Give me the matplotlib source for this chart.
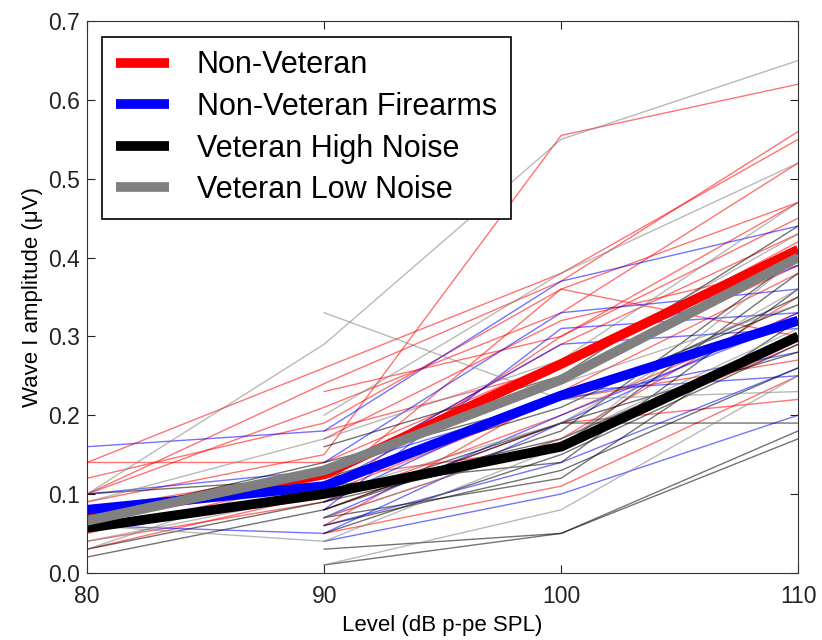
import numpy as np
import matplotlib
matplotlib.use("Agg")
from matplotlib import pyplot as plt

nan = np.nan
levels = [80, 90, 100, 110]

# individual subjects, amplitude at each level (nan = not measured)
non_vet = [
    [0.10, 0.24, 0.37, 0.56],
    [0.14, 0.26, 0.38, 0.55],
    [0.10, 0.21, 0.33, 0.52],
    [0.12, 0.19, 0.36, 0.47],
    [0.09, 0.15, 0.555, 0.62],
    [0.14, 0.14, 0.27, 0.41],
    [0.05, 0.12, 0.29, 0.43],
    [0.03, 0.10, 0.30, 0.45],
    [0.07, 0.11, 0.36, 0.30],
    [0.08, 0.13, 0.25, 0.39],
    [0.04, 0.09, 0.20, 0.33],
    [0.06, 0.10, 0.22, 0.27],
    [nan, 0.07, 0.17, 0.35],
    [nan, 0.05, 0.11, 0.25],
    [nan, 0.08, 0.19, 0.22],
    [nan, 0.17, 0.32, 0.39],
    [nan, 0.23, 0.30, 0.47],
    [nan, 0.18, 0.26, 0.42],
    [0.08, 0.12, 0.16, 0.29],
    [nan, 0.06, 0.23, 0.38],
]
non_vet_fire = [
    [0.16, 0.18, 0.37, 0.44],
    [0.06, 0.05, 0.19, 0.33],
    [nan, 0.08, 0.31, 0.33],
    [nan, 0.11, 0.27, 0.39],
    [nan, 0.06, 0.14, 0.26],
    [nan, 0.04, 0.10, 0.20],
    [nan, 0.12, 0.29, 0.31],
    [nan, 0.09, 0.23, 0.25],
    [nan, 0.14, 0.33, 0.36],
    [nan, 0.07, 0.20, 0.32],
    [0.10, 0.13, 0.22, 0.28],
]
vet_high = [
    [0.06, 0.10, 0.17, 0.30],
    [0.03, 0.09, 0.19, 0.28],
    [nan, 0.01, 0.05, 0.17],
    [nan, 0.03, 0.05, 0.18],
    [nan, 0.16, 0.25, 0.44],
    [nan, 0.07, 0.12, 0.32],
    [nan, 0.08, 0.19, 0.19],
    [nan, 0.11, 0.14, 0.36],
    [0.10, 0.12, 0.21, 0.35],
    [nan, 0.06, 0.13, 0.26],
    [0.02, 0.08, 0.18, 0.40],
    [nan, 0.05, 0.15, 0.29],
    [0.07, 0.14, 0.22, 0.34],
    [nan, 0.09, 0.16, 0.38],
]
vet_low = [
    [0.10, 0.29, 0.55, 0.65],
    [nan, 0.33, 0.22, 0.23],
    [0.06, 0.04, 0.16, 0.40],
    [nan, 0.20, 0.38, 0.52],
    [nan, 0.01, 0.08, 0.25],
    [0.09, 0.17, 0.27, 0.47],
    [0.04, 0.10, 0.19, 0.36],
    [nan, 0.12, 0.26, 0.43],
    [nan, 0.07, 0.17, 0.31],
    [0.03, 0.13, 0.24, 0.34],
]

# group means
mean_non_vet = [0.070, 0.125, 0.265, 0.41]
mean_non_vet_fire = [0.080, 0.110, 0.225, 0.32]
mean_vet_high = [0.057, 0.100, 0.160, 0.30]
mean_vet_low = [0.066, 0.130, 0.245, 0.40]

names = ["Non-Veteran", "Non-Veteran Firearms", "Veteran High Noise", "Veteran Low Noise"]
colors = ["#ff0000", "#0000ff", "#000000", "#808080"]

plt.rcParams['font.family'] = ['Liberation Sans', 'DejaVu Sans']
fig = plt.figure(figsize=(8.22, 6.4), dpi=100)
ax = fig.add_axes([0.106, 0.105, 0.865, 0.862])

groups = [non_vet, non_vet_fire, vet_high, vet_low]
for g, c in zip(groups, colors):
    for row in g:
        ax.plot(levels, row, color=c, lw=1.0, alpha=0.55)

means = [mean_non_vet, mean_non_vet_fire, mean_vet_high, mean_vet_low]
for m, c, n in zip(means, colors, names):
    ax.plot(levels, m, color=c, lw=7, label=n, solid_capstyle='butt')

ax.set_xlim(80, 110)
ax.set_ylim(0, 0.7)
ax.set_xticks([80, 90, 100, 110])
ax.set_yticks(np.arange(0, 0.71, 0.1))
ax.tick_params(direction='in', top=True, right=True, labelsize=16.5, length=6,
               colors='#222222')
ax.tick_params(axis='x', pad=9)
ax.tick_params(axis='y', pad=5)
for s in ax.spines.values():
    s.set_color('#333333')
ax.set_xlabel("Level (dB p-pe SPL)", fontsize=16, labelpad=5)
ax.set_ylabel("Wave I amplitude (\u03bcV)", fontsize=16)

leg = ax.legend(loc='upper left', fontsize=22, handlelength=1.75, handletextpad=0.9,
                labelspacing=0.38, fancybox=False, edgecolor='black', framealpha=1,
                borderpad=0.45, borderaxespad=0, bbox_to_anchor=(0.021, 0.972))
leg.get_frame().set_linewidth(1.2)

fig.savefig("out.png", dpi=100)
